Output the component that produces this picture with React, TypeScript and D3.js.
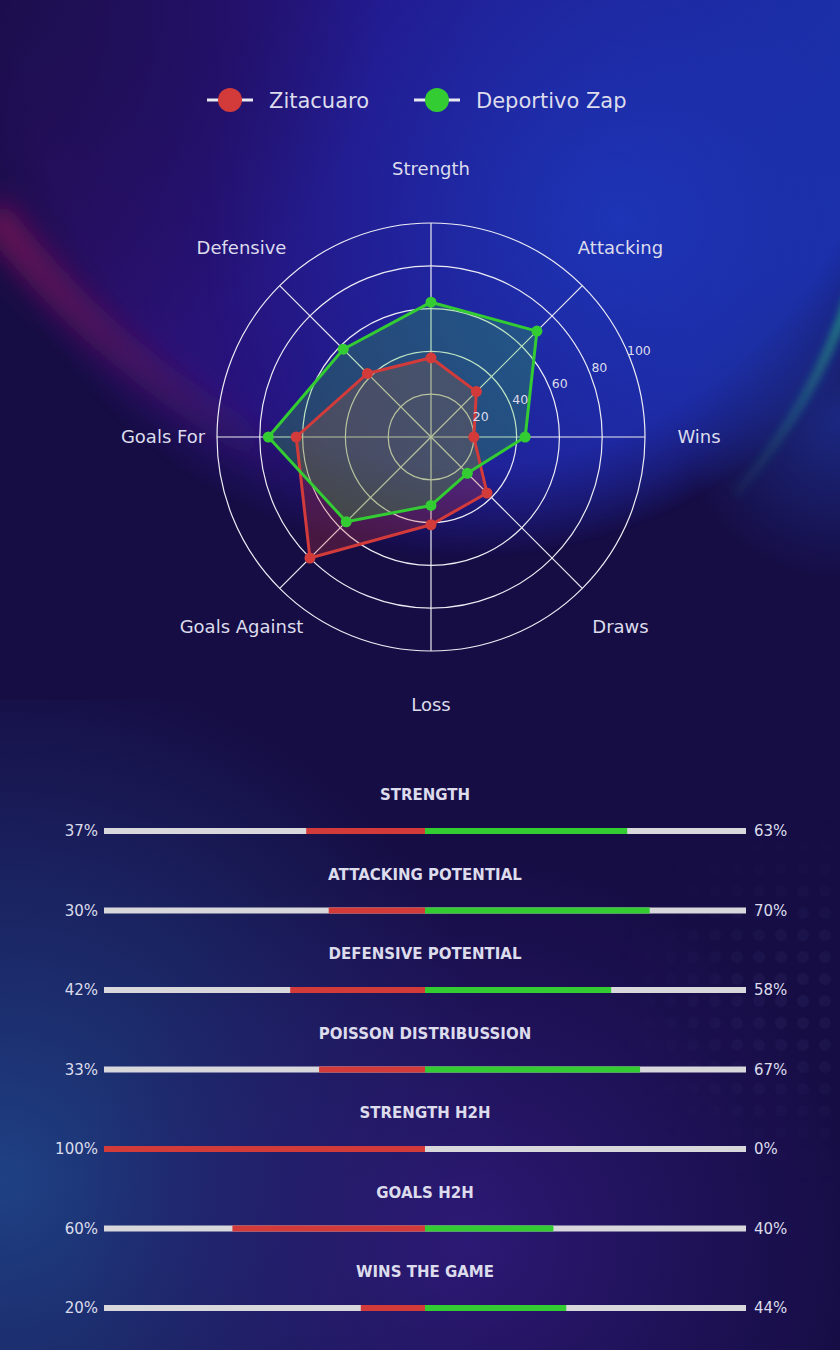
import * as d3 from "d3";

const axes = ["Strength", "Attacking", "Wins", "Draws", "Loss", "Goals Against", "Goals For", "Defensive"];
const teamA = "Zitacuaro";
const teamB = "Deportivo Zap";
const valuesA = [37, 30, 20, 37, 41, 80, 63, 42];
const valuesB = [63, 70, 44, 24, 32, 56, 76, 58];
const radialTicks = [20, 40, 60, 80, 100];

const barTitles = [
  "STRENGTH",
  "ATTACKING POTENTIAL",
  "DEFENSIVE POTENTIAL",
  "POISSON DISTRIBUSSION",
  "STRENGTH H2H",
  "GOALS H2H",
  "WINS THE GAME",
];
const barA = [37, 30, 42, 33, 100, 60, 20];
const barB = [63, 70, 58, 67, 0, 40, 44];

const RED = "#d33b3b";
const GREEN = "#33cc33";
const TEXT = "#dcdcec";
const FONT = "DejaVu Sans, sans-serif";

const W = 840;
const H = 1350;

function Background() {
  return (
    <g>
      <defs>
        <linearGradient id="upperGrad" x1="0" y1="0" x2="840" y2="0" gradientUnits="userSpaceOnUse">
          <stop offset="0" stopColor="#2c0e62" />
          <stop offset="0.45" stopColor="#24168a" />
          <stop offset="1" stopColor="#1a2ea6" />
        </linearGradient>
        {/* ellipse whose lower edge is the wide U-shaped glow boundary */}
        <radialGradient
          id="uShape"
          cx="0"
          cy="0"
          r="1"
          gradientUnits="userSpaceOnUse"
          gradientTransform="translate(460,-20) scale(530,580)"
        >
          <stop offset="0" stopColor="#fff" />
          <stop offset="0.84" stopColor="#fff" />
          <stop offset="0.93" stopColor="#777" />
          <stop offset="1" stopColor="#000" />
        </radialGradient>
        <mask id="uMask">
          <rect width={W} height={800} fill="url(#uShape)" />
        </mask>
        <radialGradient id="blueGlow" cx="620" cy="220" r="420" gradientUnits="userSpaceOnUse">
          <stop offset="0" stopColor="#1d38bc" stopOpacity="0.85" />
          <stop offset="1" stopColor="#1d30a8" stopOpacity="0" />
        </radialGradient>
        <radialGradient id="rightBlue" cx="840" cy="420" r="160" gradientUnits="userSpaceOnUse">
          <stop offset="0" stopColor="#1c2f90" stopOpacity="0.8" />
          <stop offset="1" stopColor="#1c2f90" stopOpacity="0" />
        </radialGradient>
        <radialGradient id="topLeftDark" cx="0" cy="0" r="380" gradientUnits="userSpaceOnUse">
          <stop offset="0" stopColor="#1a0e4c" stopOpacity="0.9" />
          <stop offset="1" stopColor="#1a0e4c" stopOpacity="0" />
        </radialGradient>
        <radialGradient id="bottomLeft" cx="0" cy="1180" r="520" gradientUnits="userSpaceOnUse">
          <stop offset="0" stopColor="#1f4488" stopOpacity="0.95" />
          <stop offset="0.6" stopColor="#1f3a80" stopOpacity="0.45" />
          <stop offset="1" stopColor="#1f3a80" stopOpacity="0" />
        </radialGradient>
        <radialGradient id="bottomMid" cx="470" cy="1240" r="400" gradientUnits="userSpaceOnUse">
          <stop offset="0" stopColor="#2f1a7a" stopOpacity="0.9" />
          <stop offset="1" stopColor="#2a1870" stopOpacity="0" />
        </radialGradient>
        <linearGradient id="pinkGrad" x1="0" y1="0" x2="300" y2="0" gradientUnits="userSpaceOnUse">
          <stop offset="0" stopColor="#a0105a" stopOpacity="0.6" />
          <stop offset="0.6" stopColor="#7a1a68" stopOpacity="0.3" />
          <stop offset="1" stopColor="#6a2a80" stopOpacity="0" />
        </linearGradient>
        <linearGradient id="tealGrad" x1="0" y1="280" x2="0" y2="520" gradientUnits="userSpaceOnUse">
          <stop offset="0" stopColor="#22c080" stopOpacity="0.95" />
          <stop offset="1" stopColor="#2a8a8a" stopOpacity="0" />
        </linearGradient>
        <filter id="blur4" filterUnits="userSpaceOnUse" x="680" y="250" width="200" height="300">
          <feGaussianBlur stdDeviation="4" />
        </filter>
        <filter id="blur14" filterUnits="userSpaceOnUse" x="-60" y="140" width="440" height="400">
          <feGaussianBlur stdDeviation="14" />
        </filter>
        <pattern id="dots" width="22" height="22" patternUnits="userSpaceOnUse">
          <circle cx="11" cy="11" r="6" fill="#6a6ab0" />
        </pattern>
        <radialGradient id="dotMaskGrad" cx="800" cy="1000" r="190" gradientUnits="userSpaceOnUse">
          <stop offset="0" stopColor="#fff" stopOpacity="0.1" />
          <stop offset="1" stopColor="#fff" stopOpacity="0" />
        </radialGradient>
        <mask id="dotMask">
          <rect width={W} height={H} fill="url(#dotMaskGrad)" />
        </mask>
      </defs>
      <rect width={W} height={H} fill="#160d44" />
      <rect width={W} height={800} fill="url(#upperGrad)" mask="url(#uMask)" />
      <rect width={W} height={760} fill="url(#blueGlow)" mask="url(#uMask)" />
      <rect width={W} height={760} fill="url(#rightBlue)" />
      <rect width={W} height={760} fill="url(#topLeftDark)" />
      <rect y={700} width={W} height={650} fill="url(#bottomLeft)" />
      <rect y={700} width={W} height={650} fill="url(#bottomMid)" />
      <path
        d="M -10 210 C 60 300 140 380 300 470"
        fill="none"
        stroke="url(#pinkGrad)"
        strokeWidth="34"
        filter="url(#blur14)"
      />
      <path
        d="M 852 290 C 825 370 790 430 735 495"
        fill="none"
        stroke="url(#tealGrad)"
        strokeWidth="7"
        filter="url(#blur4)"
      />
      <rect width={W} height={H} fill="url(#dots)" mask="url(#dotMask)" />
    </g>
  );
}

function Legend() {
  const items = [
    { name: teamA, color: RED, x: 207 },
    { name: teamB, color: GREEN, x: 414 },
  ];
  return (
    <g>
      {items.map((d) => (
        <g key={d.name} transform={`translate(${d.x},100)`}>
          <line x1={0} x2={46} stroke="#e8e8f0" strokeWidth={3} />
          <circle cx={23} r={12} fill={d.color} />
          <text x={62} dy="0.36em" fill={TEXT} fontSize={21} fontFamily={FONT}>
            {d.name}
          </text>
        </g>
      ))}
    </g>
  );
}

function Radar() {
  const cx = 431;
  const cy = 437;
  const r = d3.scaleLinear().domain([0, 100]).range([0, 214]);
  const angle = (i: number) => (i * 2 * Math.PI) / axes.length;
  const px = (i: number, v: number) => Math.sin(angle(i)) * r(v);
  const py = (i: number, v: number) => -Math.cos(angle(i)) * r(v);
  const line = d3
    .lineRadial<number>()
    .angle((_, i) => angle(i))
    .radius((v) => r(v))
    .curve(d3.curveLinearClosed);
  const tickAngle = (Math.PI / 180) * 67.5; // 22.5deg above horizontal
  const series = [
    { values: valuesA, color: RED },
    { values: valuesB, color: GREEN },
  ];
  return (
    <g transform={`translate(${cx},${cy})`} fontFamily={FONT}>
      {radialTicks.map((t) => (
        <circle key={t} r={r(t)} fill="none" stroke="#ececf4" strokeWidth={1.2} />
      ))}
      {axes.map((a, i) => (
        <line key={a} x1={0} y1={0} x2={px(i, 100)} y2={py(i, 100)} stroke="#ececf4" strokeWidth={1.2} />
      ))}
      {series.map((s) => (
        <path key={s.color} d={line(s.values) ?? ""} fill={s.color} fillOpacity={0.26} stroke="none" />
      ))}
      {series.map((s) => (
        <g key={s.color + "l"}>
          <path d={line(s.values) ?? ""} fill="none" stroke={s.color} strokeWidth={3} strokeLinejoin="round" />
          {s.values.map((v, i) => (
            <circle key={i} cx={px(i, v)} cy={py(i, v)} r={5.5} fill={s.color} />
          ))}
        </g>
      ))}
      {radialTicks.map((t) => (
        <text
          key={t}
          x={Math.sin(tickAngle) * (r(t) + 11)}
          y={-Math.cos(tickAngle) * (r(t) + 11)}
          dy="0.35em"
          textAnchor="middle"
          fill={TEXT}
          fontSize={12.5}
        >
          {t}
        </text>
      ))}
      {axes.map((a, i) => (
        <text
          key={a}
          x={Math.sin(angle(i)) * 268}
          y={-Math.cos(angle(i)) * 268}
          dy="0.35em"
          textAnchor="middle"
          fill={TEXT}
          fontSize={18}
        >
          {a}
        </text>
      ))}
    </g>
  );
}

function Bars() {
  const x = d3.scaleLinear().domain([-100, 100]).range([104, 746]);
  const y = d3
    .scalePoint<string>()
    .domain(barTitles)
    .range([831, 1308]);
  const h = 6;
  return (
    <g fontFamily={FONT}>
      {barTitles.map((t, i) => {
        const yy = y(t) ?? 0;
        return (
          <g key={t}>
            <text x={425} y={yy - 36} dy="0.35em" textAnchor="middle" fill={TEXT} fontSize={15} fontWeight="bold">
              {t}
            </text>
            <rect x={x(-100)} y={yy - h / 2} width={x(100) - x(-100)} height={h} fill="#d8d8dc" />
            <rect x={x(-barA[i])} y={yy - h / 2} width={x(0) - x(-barA[i])} height={h} fill={RED} />
            <rect x={x(0)} y={yy - h / 2} width={x(barB[i]) - x(0)} height={h} fill={GREEN} />
            <text x={x(-100) - 6} y={yy} dy="0.35em" textAnchor="end" fill={TEXT} fontSize={15}>
              {barA[i]}%
            </text>
            <text x={x(100) + 8} y={yy} dy="0.35em" textAnchor="start" fill={TEXT} fontSize={15}>
              {barB[i]}%
            </text>
          </g>
        );
      })}
    </g>
  );
}

export default function App() {
  return (
    <svg
      width={W}
      height={H}
      viewBox={`0 0 ${W} ${H}`}
      style={{ position: "absolute", left: 0, top: 0, display: "block" }}
    >
      <Background />
      <Legend />
      <Radar />
      <Bars />
    </svg>
  );
}
